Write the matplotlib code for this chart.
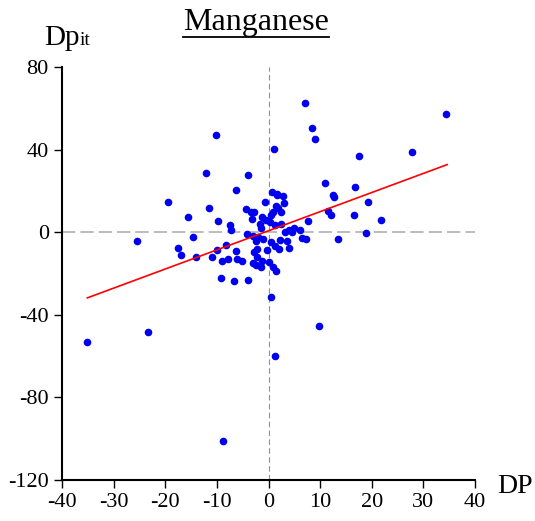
import numpy as np
import matplotlib.pyplot as plt
from matplotlib.lines import Line2D

plt.rcParams['font.family'] = ['Liberation Serif', 'DejaVu Serif']
plt.rcParams['axes.unicode_minus'] = False

# DP vs Dp_it readings
dp = [-35.1, -25.5, -23.4, -19.4, -17.6, -16.9, -15.6, -14.6, -14.1, -12.1, -11.6, -11.0,
      -10.2, -9.7, -9.9, -9.3, -9.1, -8.8, -8.3, -7.9, -7.5, -7.3, -6.6, -6.4, -6.3, -6.2,
      -5.2, -4.3, -4.0, -3.9, -4.1, -3.5, -2.9, -3.2, -3.1, -2.8, -3.1, -2.5, -2.3, -2.2,
      -2.4, -2.1, -1.7, -1.5, -1.4, -1.1, -1.3, -1.2, -0.7, -0.5, -0.3, 0.1, 0.2, 0.4, 0.5,
      0.4, 0.8, 0.6, 1.0, 0.9, 1.2, 1.3, 1.3, 1.5, 1.6, 1.5, 1.7, 1.9, 2.1, 2.2, 2.4, 2.5,
      2.8, 3.0, 3.1, 3.6, 3.9, 4.0, 4.5, 4.9, 6.0, 6.4, 7.0, 7.3, 7.6, 8.5, 8.9, 9.7, 11.0,
      11.6, 12.0, 12.5, 12.6, 13.4, 16.6, 16.7, 17.6, 18.8, 19.2, 21.8, 27.8, 34.3]
dpit = [-53.3, -4.2, -48.5, 14.9, -7.7, -10.8, 7.2, -2.2, -12.0, 28.6, 11.9, -12.0,
        47.2, 5.3, -8.5, -22.2, -13.7, -101.0, -6.3, -12.9, 3.4, 1.0, -23.8, 20.4, -9.3, -12.9,
        -13.7, 11.1, 27.8, -23.1, -1.0, 10.0, 10.0, 6.3, -1.9, -9.5, -14.9, -4.2, -12.0, -8.0,
        -15.9, -2.4, 3.9, 1.9, -16.9, -3.2, 7.4, -14.1, 14.5, 5.9, -8.8, -14.6, 4.8, -31.3, -4.8,
        8.5, 10.0, 19.3, 40.2, -16.7, 3.7, -6.7, -60.2, -18.8, 18.5, 12.7, 18.2, 12.0, -8.0, -3.9,
        9.8, 3.9, 17.5, 14.1, 0.0, -4.0, 1.0, -7.6, 0.2, 2.2, 1.3, -2.7, 62.8, -3.5, 5.5, 50.4,
        45.0, -45.6, 23.8, 10.3, 8.5, 18.3, 17.2, -3.1, 8.2, 21.8, 36.9, -0.5, 14.6, 5.9, 38.9, 57.2]
line_x = [-35.1, 34.6]
line_y = [-31.8, 32.8]

fig = plt.figure(figsize=(5.35, 5.21), dpi=100)
ax = fig.add_axes([0.116, 0.079, 0.772, 0.792])

ax.axhline(0, color='#b0b0b0', lw=1.2, ls=(0, (8, 3)))
ax.axvline(0, color='#909090', lw=0.8, ls=(0, (5, 3)))
ax.scatter(dp, dpit, s=20, color='#0000ee', zorder=3)
ax.plot(line_x, line_y, color='red', lw=1.2, zorder=4)

ax.set_xlim(-40, 40)
ax.set_ylim(-120, 80)
ax.set_xticks(range(-40, 41, 10))
ax.set_yticks(range(-120, 81, 40))
for s in ['top', 'right']:
    ax.spines[s].set_visible(False)
ax.spines['left'].set_linewidth(1.5)
ax.spines['bottom'].set_linewidth(1.5)
ax.tick_params(direction='out', length=6, labelsize=16, width=1)

fig.text(0.478, 0.942, 'Manganese', fontsize=23, ha='center')
fig.add_artist(Line2D([0.342, 0.615], [0.929, 0.929], color='black', lw=1.3))
fig.text(0.082, 0.914, 'Dp', fontsize=21)
fig.text(0.149, 0.914, 'it', fontsize=14)
fig.text(0.929, 0.054, 'DP', fontsize=20)

fig.savefig('out.png', dpi=100)
